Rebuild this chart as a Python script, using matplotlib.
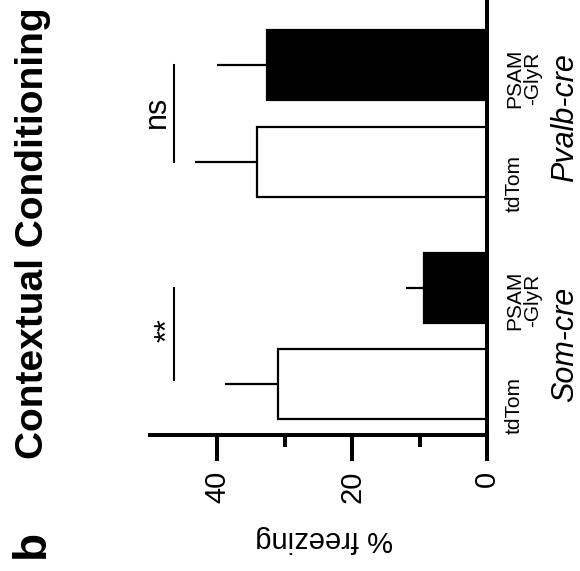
"""Contextual conditioning freezing, Som-cre vs Pvalb-cre (panel b, rotated)."""
import matplotlib
matplotlib.use("Agg")
import matplotlib.pyplot as plt
import matplotlib.transforms as mtransforms

plt.rcParams["font.family"] = ["Liberation Sans", "DejaVu Sans"]

# data (% freezing)
groups = ["Som-cre", "Pvalb-cre"]
conditions = ["tdTom", "PSAM\n-GlyR", "tdTom", "PSAM\n-GlyR"]
freezing_mean = [31.0, 9.3, 34.1, 32.7]
freezing_sem = [7.8, 2.7, 9.2, 7.4]
sig_labels = ["**", "ns"]

# layout
pos = [0.0, 1.0, 2.31, 3.32]
colors = ["white", "black", "white", "black"]
W, H = 580, 571


def main():
    fig = plt.figure(figsize=(W / 100, H / 100), dpi=100)
    ax = fig.add_axes([150 / W, 1 - 435 / H, 337 / W, 435 / H])

    ax.errorbar(freezing_mean, pos, xerr=[[0] * 4, freezing_sem],
                fmt="none", ecolor="black", elinewidth=1.6, capsize=0, zorder=1)
    ax.barh(pos, freezing_mean, height=0.73, color=colors,
            edgecolor="black", linewidth=1.6, zorder=2)

    ax.set_xlim(50, 0)
    ax.set_ylim(-0.53, 4.0)

    for s in ("left", "top"):
        ax.spines[s].set_visible(False)
    for s in ("bottom", "right"):
        ax.spines[s].set_linewidth(2.9)

    ax.set_xticks([0, 20, 40], ["0", "20", "40"], rotation=90, fontsize=21)
    ax.set_xticks([10, 30], minor=True)
    ax.tick_params(axis="x", which="major", length=18.5, width=2.9, pad=7)
    ax.tick_params(axis="x", which="minor", length=8.6, width=2.9)
    ax.set_xlabel("% freezing", rotation=180, fontsize=21)
    ax.xaxis.set_label_coords(0.516, -0.207)

    ax.yaxis.tick_right()
    ax.set_yticks(pos, conditions, rotation=90, fontsize=15,
                  multialignment="center", linespacing=0.92)
    ax.tick_params(axis="y", length=0, pad=13)

    # significance brackets
    for (a, b), lab, lx, fs, yc in zip([(0.04, 1.0), (2.31, 3.32)], sig_labels,
                                       [46.0, 47.8], [22, 22], [0.56, 2.83]):
        ax.plot([46.5, 46.5], [a, b], color="black", lw=1.5, clip_on=False)
        ax.text(lx, yc, lab, rotation=90, rotation_mode="anchor",
                ha="center", va="baseline", fontsize=fs)

    trans = mtransforms.blended_transform_factory(fig.transFigure, ax.transData)
    for g, yc in zip(groups, [0.41, 2.78]):
        ax.text(573 / W, yc, g, transform=trans, rotation=90,
                rotation_mode="anchor", ha="center", va="baseline",
                fontsize=22, style="italic")

    fig.text(43 / W, 1 - 233 / H, "Contextual Conditioning", rotation=90,
             rotation_mode="anchor", ha="center", va="baseline",
             fontsize=28, fontweight="bold")
    fig.text(44 / W, 1 - 543.5 / H, "b", rotation=90,
             rotation_mode="anchor", ha="center", va="baseline",
             fontsize=33, fontweight="bold")

    fig.savefig("out.png", dpi=100)


if __name__ == "__main__":
    main()
